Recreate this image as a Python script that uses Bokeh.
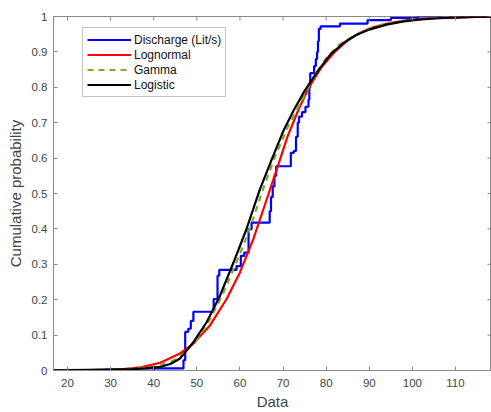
import math
from bokeh.plotting import figure
from bokeh.models import FixedTicker, Range1d, Legend, LegendItem
from bokeh.embed import file_html
from bokeh.resources import INLINE

# ---- data ----
x_ticks = [20, 30, 40, 50, 60, 70, 80, 90, 100, 110]
y_ticks = [0, 0.1, 0.2, 0.3, 0.4, 0.5, 0.6, 0.7, 0.8, 0.9, 1]
y_tick_labels = ["0", "0.1", "0.2", "0.3", "0.4", "0.5", "0.6", "0.7", "0.8", "0.9", "1"]

# empirical CDF of discharge (step positions and cumulative probability after step)
dis_x = [16.0, 40.0, 46.9, 47.3, 48.0, 48.6, 49.2, 53.9, 54.8, 55.2, 59.2, 60.2, 61.0, 62.0, 62.7,
         66.9, 67.2, 67.6, 68.0, 68.4, 71.8, 72.5, 73.0, 73.4, 73.7, 74.4, 75.2, 75.9, 76.1, 76.3,
         77.2, 77.6, 77.9, 78.1, 78.3, 78.7, 83.2, 89.6, 95.0, 101.2, 120.0]
dis_p = [0.0, 0.006, 0.029, 0.109, 0.118, 0.14, 0.166, 0.202, 0.268, 0.284, 0.295, 0.324, 0.333, 0.399, 0.418,
         0.45, 0.49, 0.52, 0.55, 0.577, 0.615, 0.62, 0.66, 0.70, 0.717, 0.73, 0.745, 0.765, 0.80, 0.84,
         0.86, 0.88, 0.90, 0.93, 0.965, 0.972, 0.98, 0.99, 0.996, 1.0, 1.0]

# fitted Lognormal CDF
logn_x = [16, 20, 25, 30, 33, 37, 41.5, 46.1, 49.2, 53.1, 56.9, 60, 63.1, 66.2, 69, 71, 73.7, 76, 79, 82,
          85, 88, 91, 95, 99, 103, 108, 114, 120]
logn_p = [0.0, 0.0005, 0.001, 0.002, 0.004, 0.009, 0.022, 0.048, 0.076, 0.128, 0.202, 0.277, 0.371, 0.483,
          0.585, 0.66, 0.74, 0.80, 0.858, 0.90, 0.933, 0.955, 0.97, 0.982, 0.99, 0.994, 0.997, 0.999, 1.0]

# fitted Gamma CDF (green dashed curve)
gam_x = [16, 20, 25, 30, 35, 40, 44, 47, 50, 53, 56, 59, 62, 65, 68, 71, 74, 77, 80, 83,
         86, 89, 93, 97, 101, 106, 112, 120]
gam_p = [0.0, 0.0003, 0.001, 0.0025, 0.005, 0.011, 0.024, 0.047, 0.088, 0.143, 0.215, 0.30, 0.39, 0.50,
         0.60, 0.685, 0.755, 0.825, 0.882, 0.92, 0.942, 0.962, 0.977, 0.987, 0.993, 0.997, 0.999, 1.0]

# fitted Logistic CDF (black curve)
logi_x = [16, 20, 25, 30, 35, 38, 41.5, 44, 46.1, 49.2, 52.3, 55.4, 58.5, 61.5, 64.6, 67.5, 70, 72.5, 75, 78,
          81, 84, 87, 90, 94, 98, 102, 106, 110, 115, 120]
logi_p = [0.0005, 0.001, 0.002, 0.003, 0.004, 0.006, 0.010, 0.019, 0.034, 0.080, 0.137, 0.212, 0.305, 0.399,
          0.511, 0.60, 0.675, 0.736, 0.79, 0.845, 0.893, 0.925, 0.948, 0.963, 0.977, 0.986, 0.992, 0.995,
          0.997, 0.999, 1.0]

FONT = "Liberation Sans"
AX = "#8a8a8a"
TXT = "#444444"

X_START, X_END = 16.75, 118.35
Y_START, Y_END = 0.0, 1.0

p = figure(width=491, height=412, x_range=Range1d(X_START, X_END), y_range=Range1d(Y_START, Y_END),
           output_backend="svg", toolbar_location=None,
           min_border_left=53, min_border_right=0, min_border_top=16, min_border_bottom=40)
p.xgrid.visible = False
p.ygrid.visible = False
p.outline_line_color = AX
p.background_fill_color = "white"
p.border_fill_color = "white"

r_dis = p.step(dis_x, dis_p, mode="after", line_color="#0000ff", line_width=2.2)
r_logn = p.line(logn_x, logn_p, line_color="#ff0000", line_width=2.2)
r_gam = p.line(gam_x, gam_p, line_color="#77AC30", line_width=2.2, line_dash="6 5")
r_logi = p.line(logi_x, logi_p, line_color="#000000", line_width=2.2)

# inward ticks on the top and right edges of the box (MATLAB "box on")
p.ray(x=x_ticks, y=[Y_END] * len(x_ticks), length=4, length_units="screen",
      angle=-math.pi / 2, line_color=AX, line_width=1)
p.ray(x=[X_END] * len(y_ticks), y=y_ticks, length=4, length_units="screen",
      angle=math.pi, line_color=AX, line_width=1)


def style_axis(ax, ticks):
    ax.ticker = FixedTicker(ticks=ticks)
    ax.axis_line_color = AX
    ax.major_tick_line_color = AX
    ax.major_tick_in = 4
    ax.major_tick_out = 0
    ax.minor_tick_line_color = None
    ax.major_label_text_font = FONT
    ax.major_label_text_color = TXT
    ax.major_label_text_font_size = "11.5px"
    ax.axis_label_text_font = FONT
    ax.axis_label_text_color = TXT
    ax.axis_label_text_font_style = "normal"
    ax.axis_label_text_font_size = "15px"


xa = p.xaxis[0]
style_axis(xa, x_ticks)
xa.axis_label = "Data"
xa.major_label_standoff = 8
xa.axis_label_standoff = 3

ya = p.yaxis[0]
style_axis(ya, y_ticks)
ya.axis_label = "Cumulative probability"
ya.major_label_overrides = dict(zip(y_ticks, y_tick_labels))
ya.major_label_standoff = 6
ya.axis_label_standoff = 5

legend = Legend(items=[
    LegendItem(label="Discharge (Lit/s)", renderers=[r_dis]),
    LegendItem(label="Lognormal", renderers=[r_logn]),
    LegendItem(label="Gamma", renderers=[r_gam]),
    LegendItem(label="Logistic", renderers=[r_logi]),
], location=(29, 273))
legend.label_text_font = FONT
legend.label_text_font_size = "12px"
legend.label_text_color = "#111111"
legend.glyph_width = 44
legend.glyph_height = 15
legend.label_height = 15
legend.label_standoff = 3
legend.spacing = 0
legend.padding = 4
legend.margin = 0
legend.border_line_color = "#8a8a8a"
legend.border_line_width = 1
legend.background_fill_color = "white"
p.add_layout(legend, "center")

open("out.html", "w").write(file_html(p, INLINE))
